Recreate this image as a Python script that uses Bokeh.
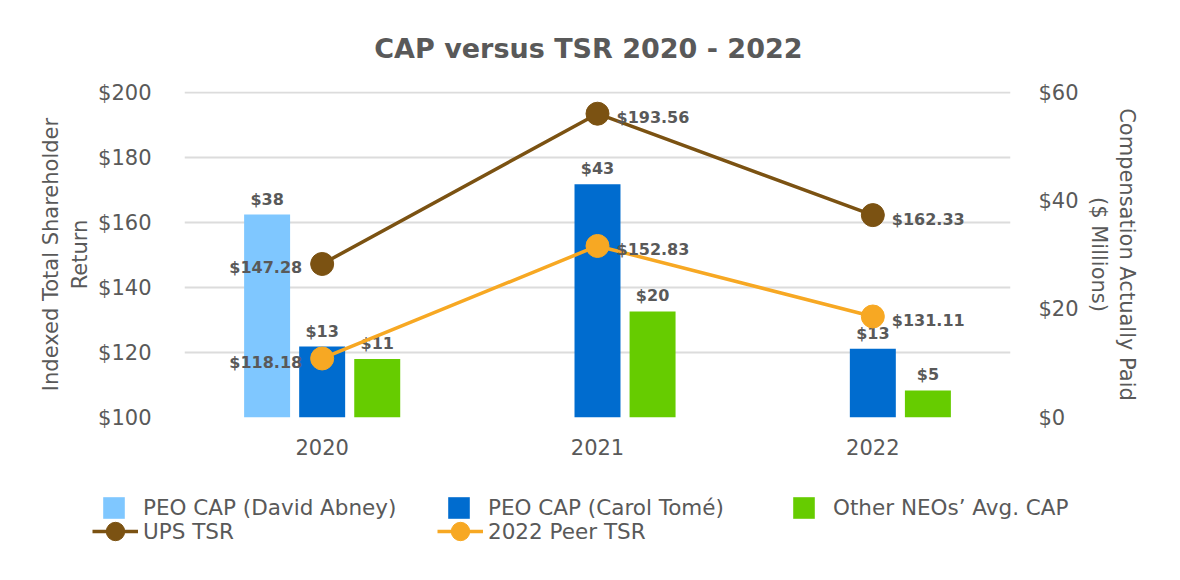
from bokeh.plotting import figure
from bokeh.layouts import column
from bokeh.models import (Range1d, LinearAxis, FactorRange, ColumnDataSource, Legend,
                          LegendItem, FixedTicker, NumeralTickFormatter)
from bokeh.transform import dodge
from bokeh.core.properties import value
from bokeh.embed import file_html
from bokeh.resources import INLINE

# ---------------- data ----------------
years = ["2020", "2021", "2022"]
abney_years = ["2020"]
abney_cap = [37.5]
tome_cap = [13.1, 43.1, 12.7]
neo_cap = [10.8, 19.6, 5.0]
ups_tsr = [147.28, 193.56, 162.33]
peer_tsr = [118.18, 152.83, 131.11]
left_ticks = [100, 120, 140, 160, 180, 200]
right_ticks = [0, 20, 40, 60]

# ---------------- style ----------------
FONT = "DejaVu Sans"
GREY = "#595959"
C_ABNEY = "#7FC7FF"
C_TOME = "#006CCF"
C_NEO = "#66CC00"
C_UPS = "#7B5212"
C_PEER = "#F7A823"

W, H_MAIN, H_LEG = 1180, 470, 110
PAD = 0.004  # tiny headroom so the top gridline is not clipped
p = figure(width=W, height=H_MAIN, x_range=FactorRange(*years),
           y_range=Range1d(100, 200 + 100 * PAD),
           output_backend="svg", toolbar_location=None,
           min_border_left=184, min_border_right=170, min_border_top=91, min_border_bottom=53)
p.outline_line_color = None
p.background_fill_color = "white"
p.border_fill_color = "white"
p.frame_align = False

p.title.text = "CAP versus TSR 2020 - 2022"
p.title.text_font = FONT
p.title.text_font_size = "27px"
p.title.text_font_style = "bold"
p.title.text_color = GREY
p.title.align = "right"
p.title.offset = 208
p.title.standoff = 56

p.extra_y_ranges = {"cap": Range1d(0, 60 + 60 * PAD)}

# grid
p.xgrid.grid_line_color = None
p.ygrid.grid_line_color = "#DCDCDC"
p.ygrid.grid_line_width = 2
p.ygrid.ticker = FixedTicker(ticks=left_ticks)

# left axis
la = p.yaxis[0]
la.ticker = FixedTicker(ticks=left_ticks)
la.formatter = NumeralTickFormatter(format="$0")
la.axis_label = "Indexed Total Shareholder\nReturn"

# right axis
ra = LinearAxis(y_range_name="cap", ticker=FixedTicker(ticks=right_ticks),
                formatter=NumeralTickFormatter(format="$0"),
                axis_label="Compensation Actually Paid\n($ Millions)")
p.add_layout(ra, "right")

xa = p.xaxis[0]
for ax in (la, ra, xa):
    ax.axis_line_color = None
    ax.major_tick_line_color = None
    ax.minor_tick_line_color = None
    ax.major_tick_out = 0
    ax.major_tick_in = 0
    ax.major_label_text_font = FONT
    ax.major_label_text_font_size = "21px"
    ax.major_label_text_color = GREY
    ax.axis_label_text_font = FONT
    ax.axis_label_text_font_size = "21px"
    ax.axis_label_text_font_style = "normal"
    ax.axis_label_text_color = GREY
la.major_label_standoff = 33
la.axis_label_standoff = 3
ra.major_label_standoff = 28
ra.axis_label_standoff = 5
xa.major_label_standoff = 21

# ---------------- bars ----------------
BW = 0.167
SLOT = 0.2

def money0(vals):
    return ["${:.0f}".format(v) for v in vals]

src_ab = ColumnDataSource(dict(x=abney_years, y=abney_cap, lab=money0(abney_cap)))
src_to = ColumnDataSource(dict(x=years, y=tome_cap, lab=money0(tome_cap)))
src_ne = ColumnDataSource(dict(x=years, y=neo_cap, lab=money0(neo_cap)))

bar_specs = [(src_ab, -SLOT, C_ABNEY), (src_to, 0.0, C_TOME), (src_ne, SLOT, C_NEO)]
for src, off, col in bar_specs:
    p.vbar(x=dodge("x", off, range=p.x_range), top="y", bottom=0, width=BW,
           source=src, y_range_name="cap", fill_color=col, line_color=None)
for src, off, col in bar_specs:
    p.text(x=dodge("x", off, range=p.x_range), y="y", text="lab", source=src,
           y_range_name="cap", y_offset=-6, text_align="center", text_baseline="bottom",
           text_font=value(FONT), text_font_size="16px", text_font_style="bold",
           text_color=GREY)

# ---------------- lines ----------------
def line_src(vals):
    aligns = ["right"] + ["left"] * (len(vals) - 1)
    xoffs = [-20] + [19] * (len(vals) - 1)
    return ColumnDataSource(dict(x=years, y=vals, lab=["${:.2f}".format(v) for v in vals],
                                 align=aligns, xo=xoffs))

src_ups = line_src(ups_tsr)
src_peer = line_src(peer_tsr)

for src, col in ((src_ups, C_UPS), (src_peer, C_PEER)):
    p.line(x="x", y="y", source=src, line_color=col, line_width=3.5)
    p.scatter(x="x", y="y", source=src, size=23, fill_color=col, line_color=col)

for src in (src_ups, src_peer):
    p.text(x="x", y="y", text="lab", source=src, x_offset="xo", y_offset=4,
           text_align="align", text_baseline="middle",
           text_font=value(FONT), text_font_size="16px", text_font_style="bold",
           text_color=GREY)

# ---------------- legend strip (separate figure so nothing is clipped) ----------------
q = figure(width=W, height=H_LEG, x_range=FactorRange(*years), y_range=Range1d(0, 1),
           output_backend="svg", toolbar_location=None,
           x_axis_location=None, y_axis_location=None,
           min_border_left=0, min_border_right=0, min_border_top=0, min_border_bottom=0)
q.outline_line_color = None
q.background_fill_color = "white"
q.border_fill_color = "white"
q.frame_align = False
q.xgrid.visible = False
q.ygrid.visible = False

# legend proxies share the chart data but are not drawn in the strip
lg_ab = q.vbar(x="x", top="y", width=BW, source=src_ab, fill_color=C_ABNEY, line_color=None, visible=False)
lg_to = q.vbar(x="x", top="y", width=BW, source=src_to, fill_color=C_TOME, line_color=None, visible=False)
lg_ne = q.vbar(x="x", top="y", width=BW, source=src_ne, fill_color=C_NEO, line_color=None, visible=False)
lg_ul = q.line(x="x", y="y", source=src_ups, line_color=C_UPS, line_width=3.5, visible=False)
lg_um = q.scatter(x="x", y="y", source=src_ups, fill_color=C_UPS, line_color=C_UPS, visible=False)
lg_pl = q.line(x="x", y="y", source=src_peer, line_color=C_PEER, line_width=3.5, visible=False)
lg_pm = q.scatter(x="x", y="y", source=src_peer, fill_color=C_PEER, line_color=C_PEER, visible=False)

LEG_FS = "21.5px"
leg_bars = Legend(items=[LegendItem(label="PEO CAP (David Abney)", renderers=[lg_ab]),
                         LegendItem(label="PEO CAP (Carol Tomé)", renderers=[lg_to]),
                         LegendItem(label="Other NEOs’ Avg. CAP", renderers=[lg_ne])],
                  orientation="horizontal", location=(100, 59),
                  glyph_width=27, glyph_height=27, label_standoff=16, label_width=302,
                  label_height=27, spacing=0, padding=0, margin=0,
                  border_line_color=None, background_fill_alpha=0,
                  label_text_font=FONT, label_text_font_size=LEG_FS, label_text_color=GREY)
leg_lines = Legend(items=[LegendItem(label="UPS TSR", renderers=[lg_ul, lg_um]),
                          LegendItem(label="2022 Peer TSR", renderers=[lg_pl, lg_pm])],
                   orientation="horizontal", location=(92, 26),
                   glyph_width=46, glyph_height=46, label_standoff=5, label_width=294,
                   label_height=46, spacing=0, padding=0, margin=0,
                   border_line_color=None, background_fill_alpha=0,
                   label_text_font=FONT, label_text_font_size=LEG_FS, label_text_color=GREY)
q.add_layout(leg_bars, "center")
q.add_layout(leg_lines, "center")

layout = column(p, q, spacing=0)
open("out.html", "w").write(file_html(layout, INLINE))
